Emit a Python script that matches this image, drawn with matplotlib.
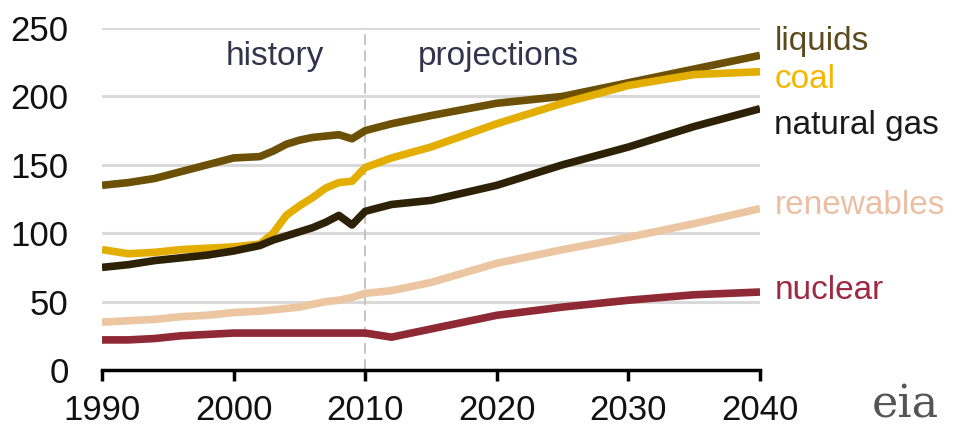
import matplotlib.pyplot as plt

years = [1990, 1992, 1994, 1996, 1998, 2000, 2002, 2003, 2004, 2005, 2006, 2007, 2008, 2009, 2010,
         2012, 2015, 2020, 2025, 2030, 2035, 2040]

liquids = [135, 137, 140, 145, 150, 155, 156, 160, 165, 168, 170, 171, 172, 169, 175,
           180, 186, 195, 200, 210, 220, 230]
coal = [88, 85, 86, 88, 89, 90, 92, 100, 113, 120, 126, 133, 137, 138, 148,
        155, 163, 180, 195, 208, 216, 218]
natural_gas = [75, 77, 80, 82, 84, 87, 91, 95, 98, 101, 104, 108, 113, 106, 116,
               121, 124, 135, 150, 163, 178, 191]
renewables = [35, 36, 37, 39, 40, 42, 43, 44, 45, 46, 48, 50, 51, 53, 56,
              58, 64, 78, 88, 97, 107, 118]
nuclear = [22, 22, 23, 25, 26, 27, 27, 27, 27, 27, 27, 27, 27, 27, 27,
           24, 30, 40, 46, 51, 55, 57]

# name, values, line colour, label colour, label height (data units)
series = [
    ("liquids", liquids, "#6b5006", "#5b4a1c", 240),
    ("coal", coal, "#e3ae00", "#f2b800", 212),
    ("natural gas", natural_gas, "#2e2206", "#1a1a1a", 179),
    ("renewables", renewables, "#ebc6a1", "#ebbfa3", 120),
    ("nuclear", nuclear, "#8f2935", "#9c2a44", 58),
]

plt.rcParams["font.family"] = ["Liberation Sans", "DejaVu Sans"]

fig = plt.figure(figsize=(9.61, 4.38), dpi=100)
ax = fig.add_axes([102 / 961, 1 - 370 / 438, 658 / 961, 342 / 438])

for y in [50, 100, 150, 200, 250]:
    ax.axhline(y, color="#d9d9d9", lw=2.2, zorder=0)
ax.axvline(2010, color="#c0c0c0", lw=1.3, ls=(0, (6, 3)), zorder=1)

for name, vals, c, tc, ly in series:
    ax.plot(years, vals, color=c, lw=5.5, solid_capstyle="butt", zorder=3)
    ax.text(2041.1, ly, name, color=tc, fontsize=24, va="center", ha="left",
            clip_on=False)

ax.text(2003.1, 229, "history", ha="center", va="center", fontsize=24, color="#33334d")
ax.text(2020.1, 229, "projections", ha="center", va="center", fontsize=24, color="#33334d")

ax.set_xlim(1990, 2040)
ax.set_ylim(0, 250)
ax.set_xticks(range(1990, 2041, 10))
ax.set_yticks(range(0, 251, 50))
for s in ["top", "right", "left"]:
    ax.spines[s].set_visible(False)
ax.spines["bottom"].set_linewidth(2.5)
ax.tick_params(axis="x", direction="out", length=8, width=2.5, labelsize=25, pad=9)
ax.tick_params(axis="y", length=0, labelsize=25, pad=24)
for lab in ax.get_xticklabels() + ax.get_yticklabels():
    lab.set_color("#111111")

fig.text(905 / 961, 1 - 405 / 438, "eia", fontsize=32, color="#555555", ha="center",
         va="center", family="DejaVu Serif")

fig.savefig("out.png", dpi=100)
